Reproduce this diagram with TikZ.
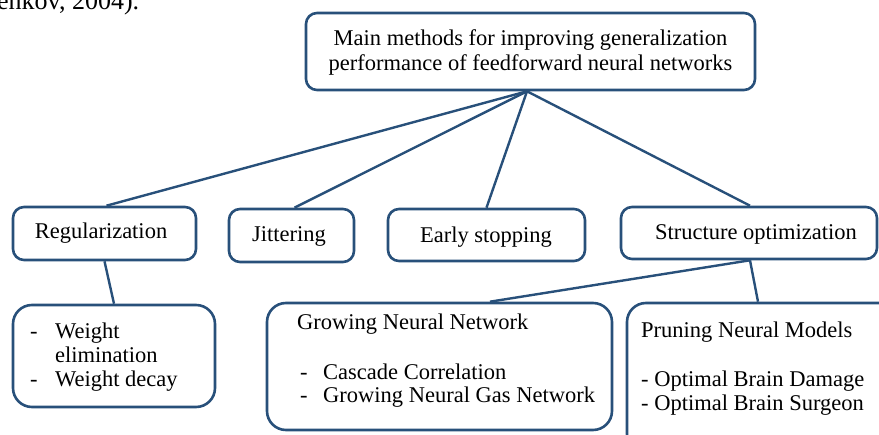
\documentclass[tikz,border=0pt]{standalone}
\usepackage{fontspec}
\setmainfont{Liberation Serif}
\definecolor{boxblue}{RGB}{40,80,122}
\tikzset{
  every picture/.style={x=1pt,y=-1pt},
  box/.style={draw=boxblue,line width=2.6pt,rounded corners=11pt,inner sep=0pt},
  bigbox/.style={box,rounded corners=19pt},
  link/.style={draw=boxblue,line width=2.4pt},
  txt/.style={inner sep=0pt,anchor=base west,font=\fontsize{22.5}{26}\selectfont},
  ctxt/.style={inner sep=0pt,anchor=base,font=\fontsize{22.5}{26}\selectfont}
}
\begin{document}
\begin{tikzpicture}
\useasboundingbox (0,0) rectangle (879,435);
\clip (0,0) rectangle (879,435);
% cut-off text at top
\node[txt,font=\fontsize{26}{30}\selectfont] (cite) at (-3,10) {enkov, 2004).};
% boxes
\node[box,minimum width=449pt,minimum height=77pt] (top) at (530.5,51.5) {};
\node[box,minimum width=183pt,minimum height=53pt] (reg) at (104.5,233.5) {};
\node[box,minimum width=125pt,minimum height=53pt] (jit) at (291.5,235.5) {};
\node[box,minimum width=197pt,minimum height=52pt] (early) at (486.5,235) {};
\node[box,minimum width=256pt,minimum height=52pt] (struct) at (749,233) {};
\node[bigbox,minimum width=202pt,minimum height=102pt] (wbox) at (114,356) {};
\node[bigbox,minimum width=345pt,minimum height=127pt] (grow) at (439.5,366.5) {};
\node[bigbox,minimum width=280pt,minimum height=150pt] (prune) at (767,378) {};
% texts
\node[ctxt] (t1) at (530.5,46) {Main methods for improving generalization};
\node[ctxt] (t2) at (530.5,71) {performance of feedforward neural networks};
\node[ctxt] (treg) at (101,239) {Regularization};
\node[ctxt] (tjit) at (289,242) {Jittering};
\node[ctxt] (tearly) at (486,243) {Early stopping};
\node[ctxt] (tstruct) at (756,240) {Structure optimization};
\node[txt] (wd1) at (30,339) {-};
\node[txt] (w1) at (55,339) {Weight};
\node[txt] (w2) at (55,363) {elimination};
\node[txt] (wd2) at (30,387) {-};
\node[txt] (w3) at (55,387) {Weight decay};
\node[txt] (g0) at (297,330) {Growing Neural Network};
\node[txt] (gd1) at (300,380) {-};
\node[txt] (g1) at (323,380) {Cascade Correlation};
\node[txt] (gd2) at (300,403) {-};
\node[txt] (g2) at (323,403) {Growing Neural Gas Network};
\node[txt] (p0) at (641,338) {Pruning Neural Models};
\node[txt] (p1) at (641,387) {- Optimal Brain Damage};
\node[txt] (p2) at (641,411) {- Optimal Brain Surgeon};
% connectors
\coordinate (hub) at ([xshift=-3.5pt]top.south);
\draw[link] (hub) -- ([xshift=2pt]reg.north);
\draw[link] (hub) -- ([xshift=3pt]jit.north);
\draw[link] (hub) -- (early.north);
\draw[link] (hub) -- ([xshift=1pt]struct.north);
\draw[link] (reg.south) -- (wbox.north);
\draw[link] ([xshift=1pt]struct.south) -- ([xshift=50.5pt]grow.north);
\draw[link] ([xshift=1pt]struct.south) -- ([xshift=-9pt]prune.north);
\end{tikzpicture}
\end{document}
